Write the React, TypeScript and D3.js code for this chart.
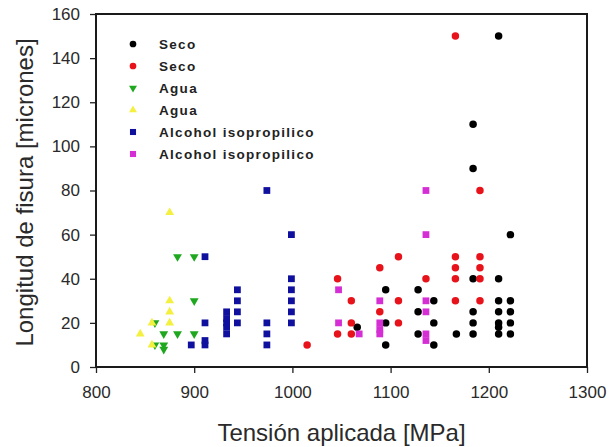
import React, { useEffect, useRef } from 'react'
import * as d3 from 'd3'

// tension [MPa] / crack length [microns]
const secoBlackX = [1066, 1095, 1095, 1095, 1128, 1128, 1128, 1144, 1144, 1144, 1167, 1184, 1184, 1184, 1184, 1184, 1184, 1210, 1210, 1210, 1210, 1210, 1210, 1210, 1222, 1222, 1222, 1222, 1222]
const secoBlackY = [18, 35, 20, 10, 35, 25, 15, 30, 20, 10, 15, 110, 90, 40, 25, 20, 15, 150, 40, 30, 25, 20, 18, 15, 60, 30, 25, 20, 15]

const secoRedX = [1015, 1046, 1046, 1060, 1060, 1060, 1089, 1089, 1108, 1108, 1108, 1136, 1166, 1166, 1166, 1166, 1166, 1191, 1191, 1191, 1191, 1191]
const secoRedY = [10, 40, 15, 30, 20, 15, 45, 25, 50, 30, 20, 40, 150, 50, 45, 40, 30, 80, 50, 45, 40, 30]

const aguaGreenX = [860, 860, 869, 869, 869, 883, 883, 900, 900, 900]
const aguaGreenY = [20, 10, 15, 10, 8, 50, 15, 50, 30, 15]

const aguaYellowX = [845, 857, 857, 875, 875, 875, 875]
const aguaYellowY = [15, 20, 10, 70, 30, 25, 20]

const alcBlueX = [897, 911, 911, 911, 911, 933, 933, 933, 933, 933, 944, 944, 944, 944, 974, 974, 974, 974, 999, 999, 999, 999, 999, 999]
const alcBlueY = [10, 50, 20, 12, 10, 25, 22, 20, 18, 15, 35, 30, 25, 20, 80, 20, 15, 10, 60, 40, 35, 30, 25, 20]

const alcPinkX = [1047, 1047, 1068, 1089, 1089, 1089, 1089, 1136, 1136, 1136, 1136, 1136, 1136]
const alcPinkY = [35, 20, 15, 30, 20, 17, 15, 80, 60, 30, 25, 15, 12]

const legendLabels = ['Seco', 'Seco', 'Agua', 'Agua', 'Alcohol isopropilico', 'Alcohol isopropilico']
const xTicks = [800, 900, 1000, 1100, 1200, 1300]
const yTicks = [0, 20, 40, 60, 80, 100, 120, 140, 160]

export default function App() {
    const node = useRef<SVGSVGElement>(null)

    useEffect(() => {
        const width = 610
        const height = 447
        const left = 96, right = 587, top = 14, bottom = 367

        const svg = d3.select(node.current)
            .attr('width', width)
            .attr('height', height)
        svg.selectAll('*').remove()

        const x = d3.scaleLinear().domain([800, 1300]).range([left, right])
        const y = d3.scaleLinear().domain([0, 160]).range([bottom, top])

        const series = [
            { xs: secoBlackX, ys: secoBlackY, color: '#000000', shape: d3.symbolCircle, size: 44, rot: 0 },
            { xs: secoRedX, ys: secoRedY, color: '#e8121a', shape: d3.symbolCircle, size: 44, rot: 0 },
            { xs: aguaGreenX, ys: aguaGreenY, color: '#1fa81f', shape: d3.symbolTriangle, size: 34, rot: 180 },
            { xs: aguaYellowX, ys: aguaYellowY, color: '#f4f040', shape: d3.symbolTriangle, size: 34, rot: 0 },
            { xs: alcBlueX, ys: alcBlueY, color: '#10109e', shape: d3.symbolSquare, size: 46, rot: 0 },
            { xs: alcPinkX, ys: alcPinkY, color: '#d42ed4', shape: d3.symbolSquare, size: 46, rot: 0 },
        ]

        const xAxis = d3.axisBottom(x).tickValues(xTicks).tickSize(6).tickPadding(13).tickFormat(d3.format('d'))
        const yAxis = d3.axisLeft(y).tickValues(yTicks).tickSize(6).tickPadding(10).tickFormat(d3.format('d'))

        const gx = svg.append('g')
            .attr('transform', `translate(0, ${bottom})`)
            .call(xAxis)
        const gy = svg.append('g')
            .attr('transform', `translate(${left}, 0)`)
            .call(yAxis)

        for (const g of [gx, gy]) {
            g.select('.domain').remove()
            g.selectAll('line').attr('stroke', '#222').attr('stroke-width', 1.3)
            g.selectAll('text')
                .attr('fill', '#2a2a2a')
                .style('font-family', 'Liberation Sans, Arial, sans-serif')
                .style('font-size', '17px')
        }

        series.forEach((s) => {
            svg.append('g')
                .selectAll('path')
                .data(s.xs.map((v, i) => [v, s.ys[i]]))
                .enter()
                .append('path')
                .attr('d', d3.symbol().type(s.shape).size(s.size)())
                .attr('transform', (d) => `translate(${x(d[0])}, ${y(d[1])}) rotate(${s.rot})`)
                .attr('fill', s.color)
        })

        svg.append('rect')
            .attr('x', left)
            .attr('y', top)
            .attr('width', right - left)
            .attr('height', bottom - top)
            .attr('fill', 'none')
            .attr('stroke', '#1a1a1a')
            .attr('stroke-width', 2)

        const legend = svg.append('g')
        series.forEach((s, i) => {
            const ly = 44 + i * 22
            legend.append('path')
                .attr('d', d3.symbol().type(s.shape).size(s.size * 0.8)())
                .attr('transform', `translate(133, ${ly}) rotate(${s.rot})`)
                .attr('fill', s.color)
            legend.append('text')
                .attr('x', 159)
                .attr('y', ly + 5)
                .attr('fill', '#222')
                .style('font-family', 'Liberation Sans, Arial, sans-serif')
                .style('font-size', '13.5px')
                .style('font-weight', 'bold')
                .style('letter-spacing', '1.3px')
                .text(legendLabels[i])
        })

        svg.append('text')
            .attr('x', (left + right) / 2)
            .attr('y', 441)
            .attr('text-anchor', 'middle')
            .attr('fill', '#2a2a2a')
            .style('font-family', 'Liberation Sans, Arial, sans-serif')
            .style('font-size', '24px')
            .text('Tensión aplicada [MPa]')

        svg.append('text')
            .attr('transform', `translate(33, ${(top + bottom) / 2 + 2}) rotate(-90)`)
            .attr('text-anchor', 'middle')
            .attr('fill', '#2a2a2a')
            .style('font-family', 'Liberation Sans, Arial, sans-serif')
            .style('font-size', '24px')
            .text('Longitud de fisura [micrones]')
    }, [])

    return <svg ref={node} style={{ position: 'absolute', left: 0, top: 0 }} />
}
